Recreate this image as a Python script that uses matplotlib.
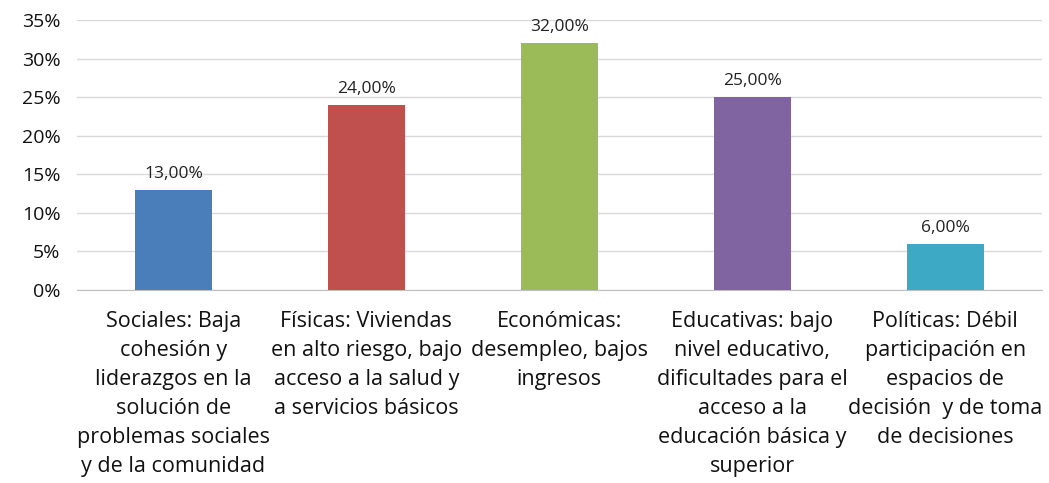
import matplotlib
matplotlib.use("Agg")
import matplotlib.pyplot as plt
from matplotlib.ticker import FuncFormatter

categorias = [
    "Sociales: Baja\ncohesión y\nliderazgos en la\nsolución de\nproblemas sociales\ny de la comunidad",
    "Físicas: Viviendas\nen alto riesgo, bajo\nacceso a la salud y\na servicios básicos",
    "Económicas:\ndesempleo, bajos\ningresos",
    "Educativas: bajo\nnivel educativo,\ndificultades para el\nacceso a la\neducación básica y\nsuperior",
    "Políticas: Débil\nparticipación en\nespacios de\ndecisión  y de toma\nde decisiones",
]
valores = [13.0, 24.0, 32.0, 25.0, 6.0]
colores = ["#4A7EBB", "#C0504D", "#9BBB59", "#8064A2", "#3DA9C5"]

plt.rcParams['font.family'] = ['Open Sans', 'DejaVu Sans']

fig = plt.figure(figsize=(10.49, 4.83), dpi=100)
ax = fig.add_axes([0.0734, 0.3996, 0.9196, 0.559])

x = range(len(valores))
ax.bar(x, valores, width=0.4, color=colores, zorder=3)
for i, v in zip(x, valores):
    ax.text(i, v + 1.0, f"{v:.2f}".replace(".", ",") + "%", ha="center", va="bottom",
            fontsize=12.5, color="#222222")

ax.set_xlim(-0.5, len(valores) - 0.5)
ax.set_ylim(0, 35)
ax.set_yticks(range(0, 36, 5))
ax.yaxis.set_major_formatter(FuncFormatter(lambda v, p: f"{int(v)}%"))
ax.grid(axis="y", color="#D9D9D9", linewidth=1, zorder=0)
for s in ["top", "right", "left"]:
    ax.spines[s].set_visible(False)
ax.spines["bottom"].set_color("#BFBFBF")
ax.tick_params(axis="both", length=0, labelsize=14, colors="#111111")
ax.tick_params(axis="y", pad=12)
ax.set_xticks(list(x))
ax.set_xticklabels(categorias, fontsize=15.5, linespacing=1.5, va="top")
ax.tick_params(axis="x", pad=15)

fig.savefig("out.png", dpi=100)
